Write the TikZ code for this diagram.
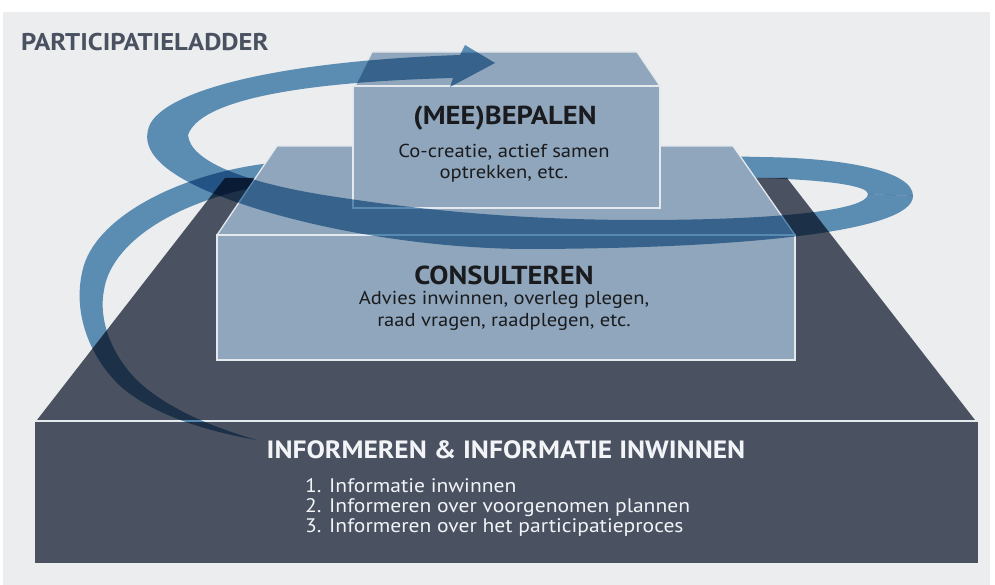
\documentclass[tikz,border=0pt]{standalone}
\usepackage{fontspec}
\setmainfont{PT Sans}[FakeStretch=1.1]
\definecolor{paper}{HTML}{ECEDEF}
\definecolor{slate}{HTML}{4A5261}
\definecolor{boxblue}{HTML}{8FA6BC}
\definecolor{boxline}{HTML}{E4E9EE}
\definecolor{ribbon}{HTML}{6397BE}
\definecolor{inkdark}{HTML}{1A1B1E}
\definecolor{inkwhite}{HTML}{F2F4F7}
\begin{document}
\begin{tikzpicture}[x=1pt,y=-1pt,
  facebox/.style={fill=boxblue, draw=boxline, line width=1.3pt},
  band/.style={fill=ribbon, blend mode=multiply},
  titletext/.style={font=\fontsize{24.2}{26}\selectfont\bfseries, text=slate, inner sep=0pt},
  headtext/.style={font=\fontsize{26}{28}\selectfont\bfseries, text=inkdark, inner sep=0pt},
  bodytext/.style={font=\fontsize{18.7}{21.5}\selectfont, text=inkdark, align=center, inner sep=0pt},
  basehead/.style={font=\fontsize{25}{28}\selectfont\bfseries, text=inkwhite, inner sep=0pt},
  baselist/.style={font=\fontsize{19.6}{20}\selectfont, text=inkwhite, align=left, inner sep=0pt}]
\useasboundingbox (0,0) rectangle (995,585);
\fill[white] (0,0) rectangle (995,585);
\fill[paper] (3,12) rectangle (990,585);
\node[titletext, anchor=west] (title) at (21,42) {PARTICIPATIELADDER};

% bottom step
\fill[slate] (37,420) -- (225,178) -- (787,178) -- (975,420) -- cycle;
\fill[slate] (35,422) rectangle (978,563);
\draw[boxline, line width=1.5pt] (35,421) -- (978,421);

% ribbon, part behind the steps
\fill[band] (913,196) .. controls (913,172) and (850,158) .. (760,157)
  .. controls (560,152) and (340,156) .. (263,164)
  .. controls (180,175) and (100,215) .. (84,265)
  .. controls (72,305) and (85,350) .. (117,383)
  .. controls (150,415) and (210,432) .. (257,440)
  .. controls (215,428) and (170,410) .. (140,383)
  .. controls (112,357) and (98,320) .. (104,290)
  .. controls (110,250) and (160,205) .. (265,185)
  .. controls (380,176) and (600,174) .. (760,178)
  .. controls (830,180) and (868,186) .. (868,194) -- cycle;

% middle step
\filldraw[facebox] (217,235) -- (277,146) -- (733,146) -- (795,235) -- cycle;
\filldraw[facebox] (217,235) rectangle (795,360);
% top step
\filldraw[facebox] (355,86) -- (372,52) -- (637,52) -- (660,86) -- cycle;
\filldraw[facebox] (353,86) rectangle (660,208);

% ribbon, part in front with the arrow
\fill[band] (913,196) .. controls (913,232) and (740,249) .. (520,249)
  .. controls (400,247) and (280,222) .. (205,190)
  .. controls (160,170) and (143,150) .. (148,130)
  .. controls (155,95) and (260,62) .. (460,55)
  -- (465,45) -- (495,63) -- (450,87) -- (453,78)
  .. controls (300,82) and (200,100) .. (188,135)
  .. controls (190,160) and (240,182) .. (330,196)
  .. controls (420,210) and (520,220) .. (640,220)
  .. controls (780,220) and (868,210) .. (868,194) -- cycle;

% texts
\node[headtext] (meehead) at (505,118) {(MEE)BEPALEN};
\node[bodytext] (meebody) at (504,163) {Co-creatie, actief samen\\optrekken, etc.};
\node[headtext] (conhead) at (504,275) {CONSULTEREN};
\node[bodytext] (conbody) at (504,311) {Advies inwinnen, overleg plegen,\\raad vragen, raadplegen, etc.};
\node[basehead] (infohead) at (506,450) {INFORMEREN \& INFORMATIE INWINNEN};
\node[baselist, anchor=north west] (infolist) at (305,478) {1. Informatie inwinnen\\2. Informeren over voorgenomen plannen\\3. Informeren over het participatieproces};
\end{tikzpicture}
\end{document}
